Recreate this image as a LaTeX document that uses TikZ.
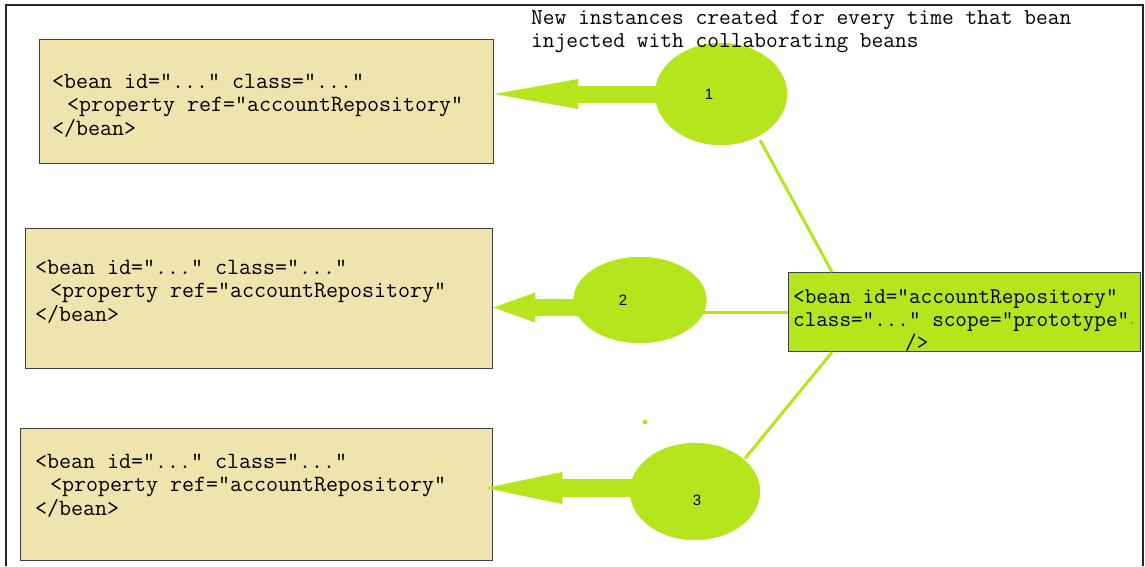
\documentclass[tikz,border=0pt]{standalone}
\usepackage{fontspec}
\newfontfamily\lsans{Liberation Sans}
\usetikzlibrary{arrows.meta,calc,shapes.geometric}
\definecolor{lime}{HTML}{B5E61D}
\definecolor{khaki}{HTML}{EFE3AE}
\definecolor{edgegray}{HTML}{404040}
\tikzset{
  codebox/.style={draw=edgegray, line width=1.3pt, fill=khaki, inner sep=0pt, anchor=north west},
  gbox/.style={draw=edgegray, line width=1.3pt, fill=lime, inner sep=0pt, anchor=north west},
  codetext/.style={inner sep=0pt, anchor=base west, font=\ttfamily\fontsize{23.3}{23.5}\selectfont},
  captext/.style={inner sep=0pt, anchor=base west, font=\ttfamily\fontsize{22.8}{23.5}\selectfont},
  gtext/.style={inner sep=0pt, anchor=base west, font=\ttfamily\fontsize{22.5}{23.5}\selectfont},
  ell/.style={ellipse, fill=lime, inner sep=0pt},
  numlbl/.style={inner sep=0pt, font=\lsans\fontsize{15}{16}\selectfont},
  thinline/.style={draw=lime, line width=3pt},
  fatarrow/.style={draw=lime, line width=#1},
}
\begin{document}
\begin{tikzpicture}[x=1pt,y=-1pt]
\useasboundingbox (0,0) rectangle (1145,566);
% frame
\draw[line width=2pt, black!85] (6,566) -- (6,5) -- (1143,5) -- (1143,566);

% boxes
\node[codebox, minimum width=454pt, minimum height=124pt] (b1) at (39,39) {};
\node[codebox, minimum width=467pt, minimum height=140pt] (b2) at (25,228) {};
\node[codebox, minimum width=472pt, minimum height=132pt] (b3) at (20,428) {};

\node[codetext] (b1l1) at (52,88) {<bean id="..." class="..."};
\node[codetext] (b1l2) at (67,111.5) {<property ref="accountRepository"};
\node[codetext] (b1l3) at (52,135) {</bean>};

\node[codetext] (b2l1) at (35,274) {<bean id="..." class="..."};
\node[codetext] (b2l2) at (50,297.5) {<property ref="accountRepository"};
\node[codetext] (b2l3) at (35,321) {</bean>};

\node[codetext] (b3l1) at (35,468) {<bean id="..." class="..."};
\node[codetext] (b3l2) at (50,491.5) {<property ref="accountRepository"};
\node[codetext] (b3l3) at (35,515) {</bean>};

% green box
\node[gbox, minimum width=352pt, minimum height=79pt] (g) at (788,272) {};

% ellipses as anchors for the connectors
\path node[ell, minimum width=132pt, minimum height=102pt] (e1) at (721,94) {}
      node[ell, minimum width=133pt, minimum height=86pt] (e2) at (640,300) {}
      node[ell, minimum width=130pt, minimum height=97pt] (e3) at (695,491.5) {};

% thin connectors
\draw[thinline] ($(e1.center)+(39,46)$) -- ($(g.north west)+(44,0)$);
\draw[thinline] (e2.center |- g.west) -- (g.west);
\draw[thinline] ($(g.south west)+(44,0)$) -- ($(e3.center)+(50,-33)$);

% fat arrows
\draw[fatarrow=17pt, -{Triangle[length=84pt,width=30pt,line width=0pt]}]
  (e1.center) -- (b1.east |- e1.center);
\draw[fatarrow=17pt, -{Triangle[length=42pt,width=30pt,line width=0pt]}]
  ($(e2.center)+(0,7.5)$) -- ($(b2.east |- e2.center)+(0,7.5)$);
\draw[fatarrow=18pt, -{Triangle[length=77pt,width=32pt,line width=0pt]}]
  ($(e3.center)+(0,-3.5)$) -- ($(b3.east |- e3.center)+(-8,-3.5)$);

% ellipses drawn over connectors
\node[ell, minimum width=132pt, minimum height=102pt] (e1f) at (e1) {};
\node[ell, minimum width=133pt, minimum height=86pt] (e2f) at (e2) {};
\node[ell, minimum width=130pt, minimum height=97pt] (e3f) at (e3) {};

\node[numlbl] (n1) at (709,94) {1};
\node[numlbl] (n2) at (623,300) {2};
\node[numlbl] (n3) at (697,500) {3};

% top caption
\node[captext] (cap1) at (531,24) {New instances created for every time that bean};
\node[captext] (cap2) at (531,47) {injected with collaborating beans};

% green box text
\node[gtext] (g1) at (793,303) {<bean id="accountRepository"};
\node[gtext] (g2) at (793,326) {class="..." scope="prototype"};
\node[gtext] (g3) at (905,349) {/>};

% stray dots
\fill[lime] (645,422) circle (2.5);
\fill[black!60] (1132,323) circle (0.9);
\end{tikzpicture}
\end{document}
